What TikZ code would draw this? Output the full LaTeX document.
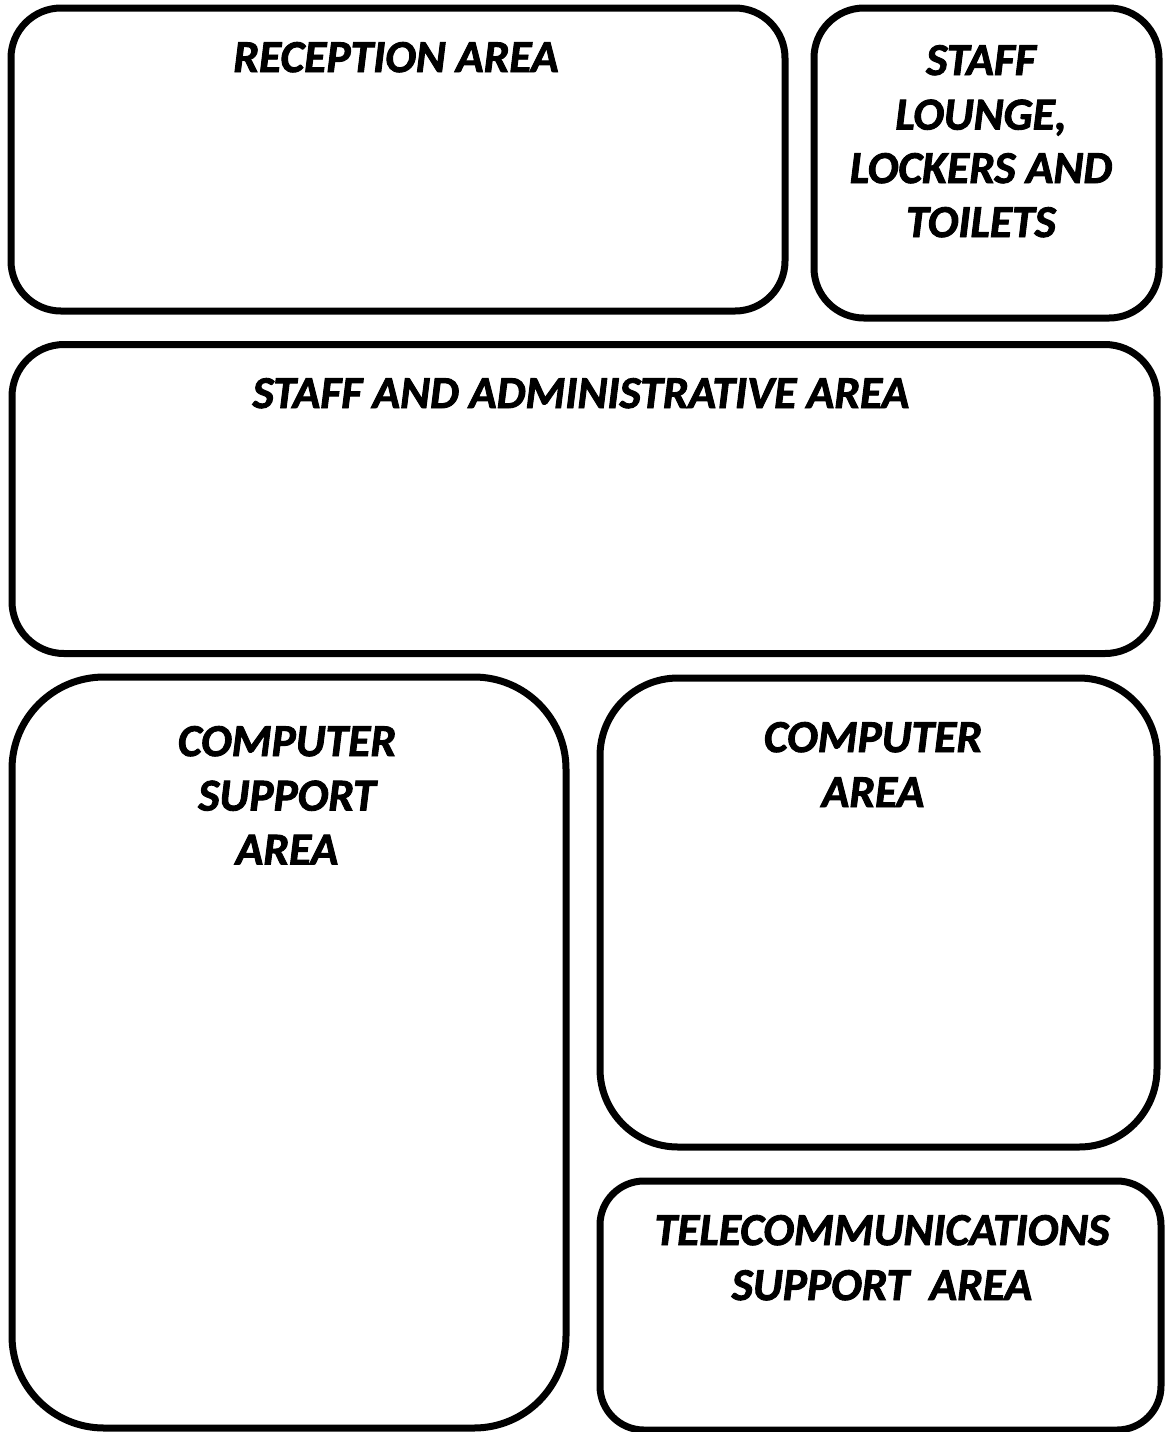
\documentclass[tikz,border=0pt]{standalone}
\usepackage{fontspec}
\setmainfont{Carlito}[BoldItalicFeatures={FakeBold=2}]
\begin{document}
\begin{tikzpicture}[x=0.5pt,y=-0.5pt,
  area/.style={draw=black, line width=3.5pt, inner sep=0pt, fill=white},
  lbl/.style={anchor=base, inner sep=0pt, font=\fontsize{22.8pt}{27pt}\selectfont\bfseries\itshape}]
\useasboundingbox (0,0) rectangle (1167,1432);
% boxes
\node[area, rounded corners=25pt, minimum width=387pt, minimum height=151.5pt] (reception) at (398,159.5) {};
\node[area, rounded corners=25pt, minimum width=172.5pt, minimum height=155pt] (lounge) at (986.5,163) {};
\node[area, rounded corners=26pt, minimum width=572.5pt, minimum height=154.5pt] (admin) at (584.5,499) {};
\node[area, rounded corners=46pt, minimum width=277pt, minimum height=375.5pt] (support) at (289,1052.5) {};
\node[area, rounded corners=39pt, minimum width=278.5pt, minimum height=234.5pt] (comp) at (878.5,912.5) {};
\node[area, rounded corners=22pt, minimum width=280.5pt, minimum height=124.5pt] (tele) at (880.5,1305.5) {};
% labels
\node[lbl] (t-rec) at (396,72) {RECEPTION AREA};
\node[lbl] (t-l1) at (981,75) {STAFF};
\node[lbl] (t-l2) at (981,129.5) {LOUNGE,};
\node[lbl] (t-l3) at (981,183) {LOCKERS AND};
\node[lbl] (t-l4) at (981,237) {TOILETS};
\node[lbl] (t-adm) at (581,408) {STAFF AND ADMINISTRATIVE AREA};
\node[lbl] (t-s1) at (287,756) {COMPUTER};
\node[lbl] (t-s2) at (287,810.5) {SUPPORT};
\node[lbl] (t-s3) at (287,864.5) {AREA};
\node[lbl] (t-c1) at (873,752) {COMPUTER};
\node[lbl] (t-c2) at (873,807) {AREA};
\node[lbl] (t-t1) at (882,1245) {TELECOMMUNICATIONS};
\node[lbl] (t-t2) at (882,1300) {SUPPORT\hspace{0.45em}AREA};
\end{tikzpicture}
\end{document}
